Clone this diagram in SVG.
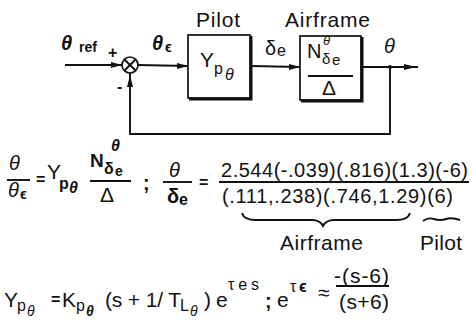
<svg xmlns="http://www.w3.org/2000/svg" width="472" height="328" viewBox="0 0 472 328">
<defs>
<style>
text{font-family:"Liberation Sans",Arial,sans-serif;fill:#111;}
.t{font-size:20px;}
.L{font-size:21px;}
.s{font-size:16px;}
.ss{font-size:14px;}
.it{font-style:italic;}
.b{font-weight:bold;}
.ln{stroke:#111;stroke-width:1.9;fill:none;}
.box{stroke:#111;stroke-width:1.7;fill:#fff;}
.sh{stroke:#111;stroke-width:3;fill:none;}
.ah{fill:#111;stroke:none;}
</style>
</defs>
<rect width="472" height="328" fill="#fff"/>

<g id="connectors">
<line class="ln" x1="65" y1="65" x2="122" y2="65"/>
<polygon class="ah" points="122,65 111,62 111,68"/>
<line class="ln" x1="138" y1="65" x2="188" y2="66"/>
<polygon class="ah" points="188,66 177,63 177,69"/>
<line class="ln" x1="251" y1="66" x2="300" y2="67"/>
<polygon class="ah" points="300,67 289,64 289,70"/>
<line class="ln" x1="362" y1="67" x2="418" y2="67"/>
<polygon class="ah" points="416,67 404,64 404,70"/>
<circle cx="390" cy="67" r="2" class="ah"/>
<polyline class="ln" points="390,67 390,134 130,134 130,73"/>
<polygon class="ah" points="130,75 127,87 133,87"/>
</g>

<g id="sum">
<circle cx="130" cy="65" r="8" class="box" stroke-width="2"/>
<line class="ln" x1="124.5" y1="59.5" x2="135.5" y2="70.5"/>
<line class="ln" x1="135.5" y1="59.5" x2="124.5" y2="70.5"/>
<text x="108" y="58" class="s b">+</text>
<text x="117" y="92" class="s b">-</text>
</g>

<g id="input-labels">
<text x="61" y="50" class="t it b">θ</text>
<text x="79" y="52" class="ss b">ref</text>
<text x="152" y="50" class="t it b">θ</text>
<text x="165" y="52" class="ss b">ϵ</text>
</g>

<g id="pilot">
<rect x="188" y="35" width="62" height="63" class="box"/>
<polyline class="sh" points="251,36 251,99 189,99"/>
<text x="196" y="27" class="L" textLength="44">Pilot</text>
<text x="200" y="67" class="L" textLength="13">Y</text>
<text x="214" y="74" class="s">p</text>
<text x="225" y="80" class="s it">θ</text>
</g>

<g id="signal-de">
<text x="265" y="55" class="t">δ</text>
<text x="277" y="56" class="s">e</text>
</g>

<g id="airframe">
<rect x="300" y="36" width="61" height="64" class="box"/>
<polyline class="sh" points="362,37 362,101 301,101"/>
<text x="285" y="27" class="L" textLength="85">Airframe</text>
<text x="307" y="58" class="t">N</text>
<text x="323" y="45" style="font-size:13px" class="it">θ</text>
<text x="322" y="64" style="font-size:15px">δ</text>
<text x="332" y="65" style="font-size:15px">e</text>
<line class="ln" x1="308" y1="76" x2="353" y2="76"/>
<text x="322" y="95" class="L" textLength="17">Δ</text>
</g>

<g id="output-label">
<text x="384" y="53" class="t it">θ</text>
</g>

<g id="eq1">
<text x="9" y="170" class="t it">θ</text>
<line class="ln" x1="7" y1="180" x2="30" y2="180"/>
<text x="8" y="197" class="t it">θ</text>
<text x="20" y="199" class="ss b">ϵ</text>
<text x="36" y="185" class="s b">=</text>
<text x="47" y="179" class="L" textLength="12">Y</text>
<text x="59" y="189" class="s b">p</text>
<text x="69" y="193" class="s it b">θ</text>
<text x="90" y="167" style="font-size:19px" class="b">N</text>
<text x="111" y="151" class="s it b">θ</text>
<text x="104" y="174" class="s b">δ</text>
<text x="115" y="176" class="ss b">e</text>
<line class="ln" x1="90" y1="181" x2="131" y2="181"/>
<text x="100" y="202" class="L" textLength="16">Δ</text>
<text x="143" y="190" class="t b">;</text>
<text x="169" y="177" class="t it">θ</text>
<line class="ln" x1="163" y1="182" x2="192" y2="182"/>
<text x="167" y="203" class="t b">δ</text>
<text x="179" y="205" class="s b">e</text>
<text x="199" y="188" class="s b">=</text>
<text x="221" y="177" style="font-size:20px" textLength="247">2.544(-.039)(.816)(1.3)(-6)</text>
<line class="ln" x1="219" y1="182" x2="469" y2="182"/>
<text x="222" y="203" style="font-size:20px" textLength="231">(.111,.238)(.746,1.29)(6)</text>
<path class="ln" stroke-width="1.5" d="M242,213 Q244,220 256,220 L312,220 Q320,220 323,226 Q326,220 334,220 L396,220 Q408,220 410,213"/>
<path class="ln" stroke-width="1.3" d="M423,221 Q428,217 434,219 Q440,221 446,219 Q452,217 460,220"/>
<text x="280" y="250" class="L" textLength="83">Airframe</text>
<text x="420" y="250" class="L" textLength="42">Pilot</text>
</g>

<g id="eq2">
<text x="4" y="307" class="L" textLength="12">Y</text>
<text x="17" y="311" class="s">p</text>
<text x="27" y="316" class="ss it">θ</text>
<text x="51" y="305" class="s b">=</text>
<text x="62" y="307" class="L">K</text>
<text x="76" y="311" class="s">p</text>
<text x="86" y="316" class="ss it b">θ</text>
<text x="105" y="307" class="L" textLength="76">(s + 1/ T</text>
<text x="180" y="311" class="s">L</text>
<text x="190" y="316" class="ss it">θ</text>
<text x="204" y="307" class="L">)</text>
<text x="216" y="307" class="L">e</text>
<text x="228" y="290" class="s" textLength="31">τes</text>
<text x="265" y="308" class="t b">;</text>
<text x="277" y="307" class="L">e</text>
<text x="290" y="292" class="s">τ</text>
<text x="299" y="292" class="s b">ϵ</text>
<text x="318" y="300" class="L">≈</text>
<text x="334" y="283" class="L" textLength="55">-(s-6)</text>
<line class="ln" x1="336" y1="286" x2="389" y2="286"/>
<text x="339" y="309" class="L" textLength="50">(s+6)</text>
</g>
</svg>
